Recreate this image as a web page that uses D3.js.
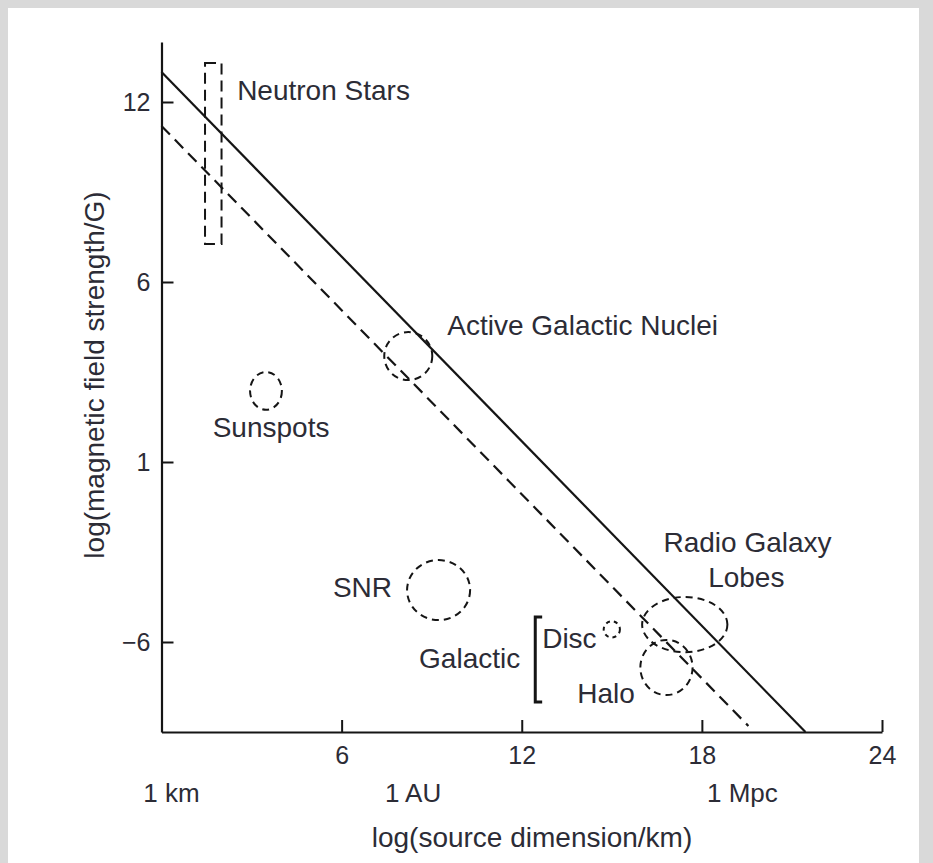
<!DOCTYPE html>
<html>
<head>
<meta charset="utf-8">
<script src="https://cdn.jsdelivr.net/npm/d3@7"></script>
<style>
  html, body { margin: 0; padding: 0; background: #d9d9d9; }
  svg { display: block; }
  text { font-family: "Liberation Sans", Arial, Helvetica, sans-serif; fill: #2c2c36; }
</style>
</head>
<body>
<svg id="chart" width="933" height="863"></svg>
<script>
// ---- data ----
const xTicks = [6, 12, 18, 24];
const xTickLabels = ["6", "12", "18", "24"];
const yTicks = [12, 6, 0, -6];
const yTickLabels = ["12", "6", "1", "\u22126"];
const scaleNames = ["1 km", "1 AU", "1 Mpc"];
const scaleValues = [0.33, 8.38, 19.35];

const solidLine = [[0, 13.0], [21.45, -9.0]];
const dashedLine = [[0, 11.2], [19.55, -8.8]];

const neutronBox = { x0: 1.45, x1: 2.0, y0: 7.27, y1: 13.3 };

const regionNames = ["Sunspots", "AGN", "SNR", "Radio Lobes", "Halo", "Disc"];
const regionCx = [3.48, 8.22, 9.23, 17.43, 16.82, 15.0];
const regionCy = [2.37, 3.53, -4.27, -5.42, -6.85, -5.58];
const regionRx = [0.53, 0.80, 1.05, 1.42, 0.87, 0.27];
const regionRy = [0.63, 0.80, 1.00, 0.92, 0.92, 0.27];

const labelTexts = ["Neutron Stars", "Active Galactic Nuclei", "Sunspots", "SNR", "Radio Galaxy", "Lobes", "Disc", "Galactic", "Halo"];
const labelX = [2.52, 9.52, 3.65, 7.68, 19.52, 19.48, 12.68, 11.95, 13.85];
const labelY = [12.07, 4.23, 0.83, -4.5, -3.0, -4.17, -6.2, -6.87, -8.03];
const labelAnchor = ["start", "start", "middle", "end", "middle", "middle", "start", "end", "start"];

const bracket = { x: 12.45, y0: -5.17, y1: -8.0, w: 0.23 };

const xTitle = "log(source dimension/km)";
const yTitle = "log(magnetic field strength/G)";

// ---- drawing ----
const svg = d3.select("#chart");
svg.append("rect").attr("x", 0).attr("y", 0).attr("width", 933).attr("height", 863).attr("fill", "#d9d9d9");
svg.append("rect").attr("x", 8).attr("y", 8).attr("width", 911).attr("height", 855).attr("fill", "#ffffff");

const x = d3.scaleLinear().domain([0, 24]).range([161.5, 882]);
const y = d3.scaleLinear().domain([-9, 14]).range([732, 42]);

const ink = "#151515";

// x axis
const gx = svg.append("g").attr("transform", `translate(0,${y(-9)})`)
  .call(d3.axisBottom(x).tickValues(xTicks).tickFormat((d, i) => xTickLabels[i])
    .tickSizeInner(-12).tickSizeOuter(0).tickPadding(14));
gx.select(".domain").attr("stroke", ink).attr("stroke-width", 2.2);
gx.selectAll(".tick line").attr("stroke", ink).attr("stroke-width", 2);
gx.selectAll(".tick text").style("font-size", "25px").attr("fill", "#2c2c36");

// y axis
const gy = svg.append("g").attr("transform", `translate(${x(0)},0)`)
  .call(d3.axisLeft(y).tickValues(yTicks).tickFormat((d, i) => yTickLabels[i])
    .tickSizeInner(-12).tickSizeOuter(0).tickPadding(11));
gy.select(".domain").attr("stroke", ink).attr("stroke-width", 2.2);
gy.selectAll(".tick line").attr("stroke", ink).attr("stroke-width", 2);
gy.selectAll(".tick text").style("font-size", "25px").attr("fill", "#2c2c36");

// scale names
svg.append("g").selectAll("text").data(scaleNames).join("text")
  .attr("x", (d, i) => x(scaleValues[i])).attr("y", 802)
  .attr("text-anchor", "middle").style("font-size", "26px")
  .text(d => d);

// axis titles
svg.append("text").attr("x", 532).attr("y", 847).attr("text-anchor", "middle")
  .style("font-size", "28px").text(xTitle);
svg.append("text").attr("transform", "translate(104,375) rotate(-90)")
  .attr("text-anchor", "middle").style("font-size", "28px").text(yTitle);

// lines
const line = d3.line().x(d => x(d[0])).y(d => y(d[1]));
svg.append("path").attr("d", line(solidLine)).attr("fill", "none")
  .attr("stroke", ink).attr("stroke-width", 2.2);
svg.append("path").attr("d", line(dashedLine)).attr("fill", "none")
  .attr("stroke", ink).attr("stroke-width", 2.2).attr("stroke-dasharray", "12,7");

// neutron star box
svg.append("rect")
  .attr("x", x(neutronBox.x0)).attr("y", y(neutronBox.y1))
  .attr("width", x(neutronBox.x1) - x(neutronBox.x0))
  .attr("height", y(neutronBox.y0) - y(neutronBox.y1))
  .attr("fill", "none").attr("stroke", ink).attr("stroke-width", 2)
  .attr("stroke-dasharray", "11,6");

// regions
svg.append("g").selectAll("ellipse").data(regionNames).join("ellipse")
  .attr("cx", (d, i) => x(regionCx[i]))
  .attr("cy", (d, i) => y(regionCy[i]))
  .attr("rx", (d, i) => x(regionRx[i]) - x(0))
  .attr("ry", (d, i) => y(0) - y(regionRy[i]))
  .attr("fill", "none").attr("stroke", ink).attr("stroke-width", 2)
  .attr("stroke-dasharray", (d, i) => regionRx[i] < 0.4 ? "4,4" : "7,5");

// bracket
const bx = x(bracket.x), bw = x(bracket.w) - x(0);
svg.append("path")
  .attr("d", `M${bx + bw},${y(bracket.y0)} H${bx} V${y(bracket.y1)} H${bx + bw}`)
  .attr("fill", "none").attr("stroke", ink).attr("stroke-width", 3);

// labels
svg.append("g").selectAll("text").data(labelTexts).join("text")
  .attr("x", (d, i) => x(labelX[i])).attr("y", (d, i) => y(labelY[i]))
  .attr("text-anchor", (d, i) => labelAnchor[i])
  .style("font-size", "28px").text(d => d);
</script>
</body>
</html>
